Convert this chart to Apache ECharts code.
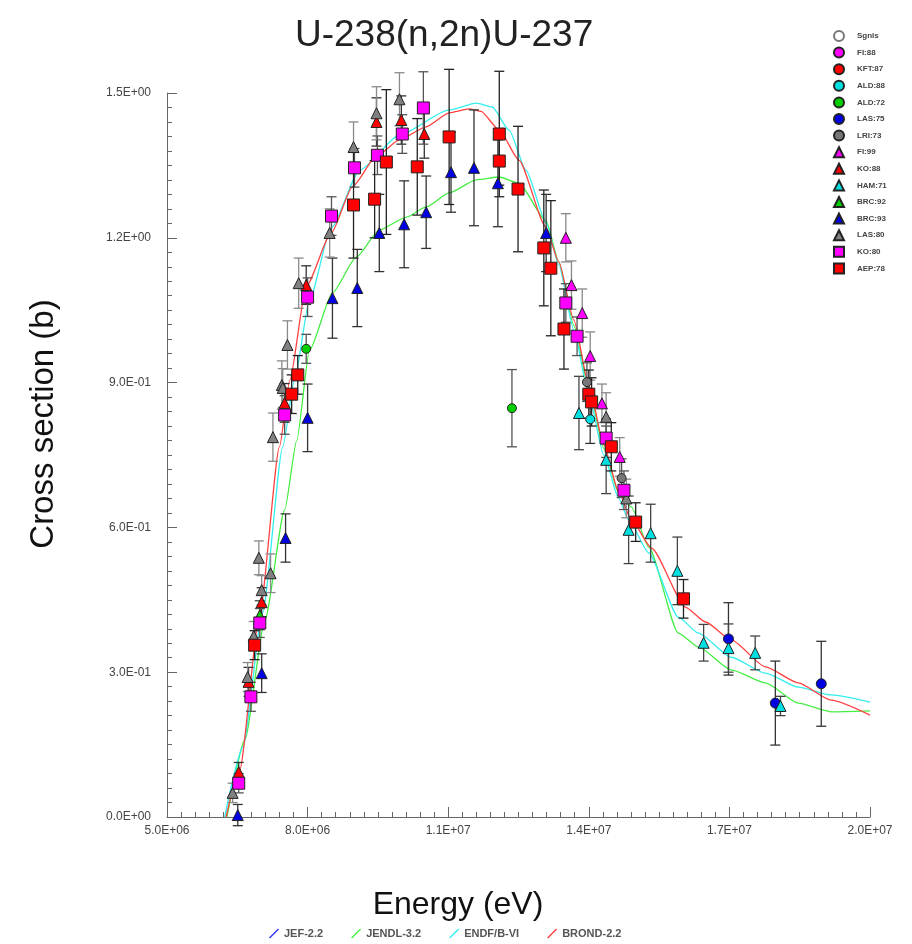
<!DOCTYPE html>
<html>
<head>
<meta charset="utf-8">
<script src="https://cdn.jsdelivr.net/npm/echarts@6/dist/echarts.min.js"></script>
<style>html,body{margin:0;padding:0;background:#fff;}#c{width:912px;height:944px;}</style>
</head>
<body>
<div id="c"></div>
<script>
// ---- axis ticks ----
const xTicks = [5e6, 8e6, 1.1e7, 1.4e7, 1.7e7, 2e7];
const yTicks = [0, 0.3, 0.6, 0.9, 1.2, 1.5];

// ---- evaluated curves: [E (eV), sigma (b)] ----
const JEF22 = [];
const JENDL32 = [[6.28e6,0],[6.66e6,0.16],[7.09e6,0.408],[7.51e6,0.636],[7.77e6,0.781],[8.04e6,0.967],[8.53e6,1.086],[9.04e6,1.160],[9.53e6,1.216],[10.11e6,1.243],[10.53e6,1.264],[11.02e6,1.293],[11.60e6,1.320],[12.09e6,1.326],[12.51e6,1.313],[13.09e6,1.235],[13.36e6,1.150],[13.68e6,1.019],[14.0e6,0.889],[14.32e6,0.764],[14.64e6,0.671],[14.91e6,0.642],[15.28e6,0.559],[15.91e6,0.381],[16.34e6,0.352],[17.04e6,0.305],[17.77e6,0.278],[18.47e6,0.236],[19.17e6,0.218],[2.0e7,0.22]];
const ENDFB6 = [[6.23e6,0],[6.62e6,0.145],[7.04e6,0.423],[7.47e6,0.767],[7.72e6,0.905],[8.04e6,1.071],[8.5e6,1.22],[9.11e6,1.34],[9.96e6,1.413],[11.02e6,1.465],[11.6e6,1.479],[11.94e6,1.471],[12.30e6,1.423],[12.66e6,1.340],[13.09e6,1.231],[13.36e6,1.144],[13.68e6,1.009],[14.0e6,0.874],[14.32e6,0.75],[14.64e6,0.66],[14.85e6,0.615],[15.28e6,0.547],[15.91e6,0.414],[16.34e6,0.381],[17.04e6,0.331],[17.77e6,0.298],[18.47e6,0.269],[19.17e6,0.253],[2.0e7,0.238]];
const BROND22 = [[6.26e6,0],[6.55e6,0.097],[6.98e6,0.423],[7.40e6,0.767],[7.62e6,0.905],[7.97e6,1.099],[8.50e6,1.209],[8.96e6,1.306],[9.46e6,1.368],[9.96e6,1.403],[10.53e6,1.430],[11.02e6,1.459],[11.45e6,1.467],[11.7e6,1.462],[12.09e6,1.423],[12.51e6,1.361],[13.08e6,1.223],[13.36e6,1.150],[13.68e6,1.030],[14.0e6,0.895],[14.32e6,0.771],[14.64e6,0.673],[14.91e6,0.615],[15.34e6,0.557],[16.06e6,0.435],[16.49e6,0.404],[17.04e6,0.367],[17.77e6,0.311],[18.47e6,0.278],[19.17e6,0.242],[2.0e7,0.211]];

// ---- experimental data: [E (eV), sigma (b), error (b)] ----
const Sgnls = [];
const FI88 = [];
const KFT87 = [];
const ALD88 = [[14.03e6,0.824,0.05]];
const ALD72 = [[7.97e6,0.970,0.03],[12.36e6,0.847,0.08]];
const LAS75 = [[16.98e6,0.369,0.075],[17.98e6,0.236,0.087],[18.96e6,0.276,0.088]];
const LRI73 = [[13.96e6,0.901,0.04],[14.70e6,0.702,0.04]];
const FI99 = [[13.51e6,1.200,0.05],[13.63e6,1.102,0.05],[13.86e6,1.044,0.05],[14.03e6,0.955,0.05],[14.28e6,0.857,0.04],[14.66e6,0.746,0.04]];
const KO88 = [[6.53e6,0.093,0.02],[6.74e6,0.280,0.03],[7.02e6,0.445,0.03],[7.51e6,0.858,0.04],[7.97e6,1.102,0.04],[9.47e6,1.440,0.05],[10.0e6,1.444,0.05],[10.49e6,1.415,0.05]];
const HAM71 = [[13.79e6,0.837,0.076],[14.37e6,0.740,0.07],[14.85e6,0.595,0.07],[15.32e6,0.588,0.06],[15.89e6,0.510,0.07],[16.45e6,0.361,0.038],[16.98e6,0.350,0.05],[17.55e6,0.340,0.035],[18.09e6,0.230,0.02]];
const BRC92 = [[6.98e6,0.418,0.03]];
const BRC93 = [[6.51e6,0.004,0.022],[7.02e6,0.298,0.04],[7.53e6,0.578,0.05],[8.0e6,0.827,0.07],[8.53e6,1.075,0.083],[9.06e6,1.096,0.08],[9.53e6,1.210,0.08],[10.06e6,1.228,0.09],[10.53e6,1.253,0.075],[11.06e6,1.336,0.083],[11.55e6,1.345,0.12],[12.06e6,1.313,0.09],[13.09e6,1.210,0.08]];
const LAS80 = [[6.40e6,0.050,0.02],[6.72e6,0.290,0.03],[6.85e6,0.375,0.03],[6.96e6,0.537,0.035],[7.02e6,0.470,0.03],[7.21e6,0.505,0.04],[7.26e6,0.787,0.05],[7.45e6,0.895,0.05],[7.47e6,0.889,0.04],[7.57e6,0.978,0.05],[7.81e6,1.106,0.052],[8.47e6,1.210,0.05],[8.98e6,1.388,0.052],[9.47e6,1.458,0.055],[9.96e6,1.487,0.055],[14.37e6,0.829,0.05],[14.80e6,0.660,0.04]];
const KO80 = [[6.53e6,0.070,0.02],[6.79e6,0.249,0.03],[6.98e6,0.402,0.03],[7.51e6,0.833,0.04],[8.0e6,1.077,0.04],[8.51e6,1.245,0.04],[9.0e6,1.345,0.04],[9.49e6,1.371,0.04],[10.02e6,1.415,0.04],[10.47e6,1.469,0.075],[13.51e6,1.065,0.04],[13.75e6,0.996,0.04],[14.37e6,0.785,0.04],[14.75e6,0.677,0.04]];
const AEP78 = [[6.87e6,0.356,0.03],[7.66e6,0.876,0.04],[7.79e6,0.916,0.04],[8.98e6,1.268,0.11],[9.43e6,1.280,0.08],[9.68e6,1.357,0.15],[10.34e6,1.347,0.10],[11.02e6,1.409,0.14],[12.09e6,1.415,0.13],[12.09e6,1.359,0.05],[12.49e6,1.301,0.13],[13.04e6,1.179,0.12],[13.19e6,1.137,0.14],[13.47e6,1.011,0.083],[14.0e6,0.876,0.05],[14.06e6,0.860,0.05],[14.48e6,0.767,0.05],[15.0e6,0.611,0.04],[16.02e6,0.452,0.04]];

const FONT = 'Liberation Sans, Arial, sans-serif';

function sciFmt(v) {
  let s = Number(v).toExponential(1).toUpperCase();
  return s.replace(/E([+-])(\d)$/, 'E$10$2');
}

const expSets = [
  {name:'Sgnls',  data:Sgnls, symbol:'circle',   size:9,  color:'#ffffff', border:'#777', bar:'#333'},
  {name:'FI:88',  data:FI88,  symbol:'circle',   size:9,  color:'#ff00ff', border:'#222', bar:'#333'},
  {name:'KFT:87', data:KFT87, symbol:'circle',   size:9,  color:'#ff0000', border:'#222', bar:'#333'},
  {name:'ALD:88', data:ALD88, symbol:'circle',   size:9,  color:'#00e0e0', border:'#222', bar:'#333'},
  {name:'ALD:72', data:ALD72, symbol:'circle',   size:9,  color:'#00d000', border:'#222', bar:'#555'},
  {name:'LAS:75', data:LAS75, symbol:'circle',   size:10, color:'#0000e0', border:'#222', bar:'#333'},
  {name:'LRI:73', data:LRI73, symbol:'circle',   size:9,  color:'#777777', border:'#222', bar:'#555'},
  {name:'FI:99',  data:FI99,  symbol:'triangle', size:11, color:'#ff00ff', border:'#222', bar:'#888'},
  {name:'KO:88',  data:KO88,  symbol:'triangle', size:11, color:'#ff0000', border:'#222', bar:'#333'},
  {name:'HAM:71', data:HAM71, symbol:'triangle', size:11, color:'#00e0e0', border:'#222', bar:'#444'},
  {name:'BRC:92', data:BRC92, symbol:'triangle', size:11, color:'#00d000', border:'#222', bar:'#444'},
  {name:'BRC:93', data:BRC93, symbol:'triangle', size:11, color:'#0000e0', border:'#222', bar:'#333'},
  {name:'LAS:80', data:LAS80, symbol:'triangle', size:11, color:'#808080', border:'#222', bar:'#8a8a8a'},
  {name:'KO:80',  data:KO80,  symbol:'rect',     size:12, color:'#ff00ff', border:'#222', bar:'#555'},
  {name:'AEP:78', data:AEP78, symbol:'rect',     size:12, color:'#ff0000', border:'#222', bar:'#222'}
];

function errRender(color) {
  return function (params, api) {
    const x = api.value(0), y = api.value(1), e = api.value(2);
    const t = api.coord([x, y + e]);
    const b = api.coord([x, y - e]);
    const hw = 5;
    const st = {stroke: color, lineWidth: 1.3};
    return {type: 'group', children: [
      {type: 'line', shape: {x1: t[0], y1: t[1], x2: b[0], y2: b[1]}, style: st},
      {type: 'line', shape: {x1: t[0] - hw, y1: t[1], x2: t[0] + hw, y2: t[1]}, style: st},
      {type: 'line', shape: {x1: b[0] - hw, y1: b[1], x2: b[0] + hw, y2: b[1]}, style: st}
    ]};
  };
}

const series = [];
const curves = [
  {name:'JEF-2.2', data:JEF22, color:'#3333ff'},
  {name:'JENDL-3.2', data:JENDL32, color:'#44ee44'},
  {name:'ENDF/B-VI', data:ENDFB6, color:'#33eeee'},
  {name:'BROND-2.2', data:BROND22, color:'#ff4040'}
];
curves.forEach(c => series.push({
  type:'line', name:c.name, data:c.data, showSymbol:false, symbol:'none',
  smooth:0.2, smoothMonotone:'x', z:2,
  lineStyle:{color:c.color, width:1.3}, itemStyle:{color:c.color}
}));
expSets.forEach(s => {
  series.push({
    type:'custom', data:s.data, encode:{x:0, y:1}, renderItem:errRender(s.bar), z:3, silent:true
  });
});
expSets.forEach(s => {
  series.push({
    type:'scatter', name:s.name, data:s.data, encode:{x:0, y:1},
    symbol:s.symbol, symbolSize:s.size, z:4,
    itemStyle:{color:s.color, borderColor:s.border, borderWidth:1, opacity:1}
  });
});

const axisCommon = {
  axisLine:{show:true, lineStyle:{color:'#666', width:1}},
  axisTick:{show:true, inside:true, length:10, lineStyle:{color:'#666', width:1}},
  minorTick:{show:true, splitNumber:10, length:5, lineStyle:{color:'#666', width:1}},
  splitLine:{show:false},
  axisLabel:{formatter:sciFmt, fontSize:12, color:'#444', fontFamily:FONT}
};

const chart = echarts.init(document.getElementById('c'), null, {renderer:'canvas'});
chart.setOption({
  animation:false,
  backgroundColor:'#ffffff',
  title:{text:'U-238(n,2n)U-237', left:290, top:12,
    textStyle:{fontSize:37, fontWeight:'normal', color:'#222', fontFamily:FONT}},
  grid:{left:167, right:42, top:93, bottom:127, containLabel:false},
  xAxis:Object.assign({}, axisCommon, {type:'value', min:xTicks[0], max:xTicks[xTicks.length-1], interval:xTicks[1]-xTicks[0],
    axisLabel:Object.assign({}, axisCommon.axisLabel, {margin:8})}),
  yAxis:Object.assign({}, axisCommon, {type:'value', min:yTicks[0], max:yTicks[yTicks.length-1], interval:yTicks[1]-yTicks[0],
    axisLabel:Object.assign({}, axisCommon.axisLabel, {margin:16})}),
  legend:[
    {orient:'vertical', left:828, top:25, itemWidth:10, itemHeight:10, itemGap:4.6, selectedMode:false,
      data:expSets.map(s => s.name),
      textStyle:{fontSize:8, fontWeight:'bold', color:'#444', fontFamily:FONT, padding:[0,0,0,8]}},
    {orient:'horizontal', left:264, top:923, itemWidth:10, itemHeight:10, itemGap:28, selectedMode:false,
      icon:'path://M0,9 L1,10 L10,1 L9,0 Z',
      data:curves.map(c => c.name),
      textStyle:{fontSize:11, fontWeight:'bold', color:'#555', fontFamily:FONT}}
  ],
  graphic:[
    {type:'text', x:458, y:905, style:{text:'Energy (eV)', fontSize:32, fontFamily:FONT, fill:'#111', align:'center', verticalAlign:'middle'}},
    {type:'text', x:44, y:424, rotation:Math.PI/2, style:{text:'Cross section (b)', fontSize:33, fontFamily:FONT, fill:'#111', align:'center', verticalAlign:'middle'}}
  ],
  series:series
});
</script>
</body>
</html>
